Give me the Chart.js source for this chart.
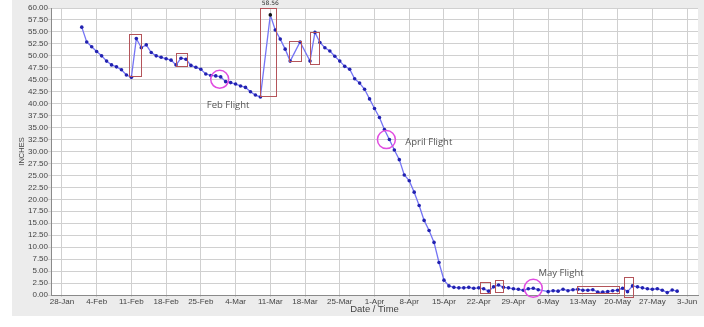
<!DOCTYPE html>
<html>
<head>
<meta charset="utf-8">
<script src="https://cdn.jsdelivr.net/npm/chart.js"></script>
<style>
  html, body { margin: 0; padding: 0; background: #fff; }
  #wrap { width: 704px; height: 327px; position: relative; }
</style>
</head>
<body>
<div id="wrap"><canvas id="depth" width="704" height="327"></canvas></div>
<script>
  // days counted from 28-Jan
  var monthNames = ['Jan','Feb','Mar','Apr','May','Jun','Jul','Aug','Sep','Oct','Nov','Dec'];
  var days = [4,5,6,7,8,9,10,11,12,13,14,15,16,17,18,19,20,21,22,23,24,25,26,27,28,29,30,31,32,33,34,35,36,37,38,39,40,
    42,43,44,45,46,48,50,51,52,53,54,55,56,57,58,59,60,61,62,63,64,65,66,67,68,69,70,71,72,73,74,75,76,77,
    78,79,80,81,82,83,84,85,86,87,88,89,90,91,92,93,94,95,96,98,99,100,101,102,103,104,105,106,107,108,109,110,111,112,
    113,114,115,116,117,118,119,120,121,122,123,124];
  var inches = [56.0,52.9,51.9,50.9,50.0,48.9,48.1,47.7,47.1,46.0,45.5,53.6,51.7,52.3,50.7,50.0,49.7,49.4,49.1,48.1,49.5,49.3,48.0,47.6,47.2,46.2,45.9,45.8,45.6,44.6,44.4,44.1,43.7,43.4,42.5,41.8,41.4,
    58.56,55.4,53.5,51.4,48.9,52.9,48.9,54.9,52.8,51.7,51.0,49.9,48.9,47.8,47.2,45.2,44.3,43.0,41.0,39.0,37.1,34.6,32.5,30.3,28.3,25.1,23.9,21.5,18.7,15.6,13.5,11.0,6.8,3.1,
    1.9,1.6,1.5,1.5,1.6,1.4,1.5,1.3,0.8,1.7,2.1,1.6,1.5,1.3,1.2,1.0,1.3,1.4,1.1,0.7,0.9,0.8,1.2,0.9,1.1,1.2,1.0,1.0,1.1,0.6,0.6,0.7,0.9,1.0,
    1.4,0.7,1.9,1.7,1.5,1.3,1.2,1.3,1.0,0.5,1.05,0.8];
  var tickDays = [0,7,14,21,28,35,42,49,56,63,70,77,84,91,98,105,112,119,126];
  var yTicks = [];
  for (var t = 0; t <= 60; t += 2.5) yTicks.push(t);

  // annotation marks in data units: [day from, day to, inches low, inches high]
  var boxes = [[13.5,15.9,45.8,54.5],[22.9,25.2,47.9,50.6],[39.9,43.1,41.4,59.9],[45.7,48.1,48.9,53.1],
    [49.9,51.8,48.2,54.9],[84.2,86.3,0.4,2.7],[87.3,88.9,0.6,3.1],[103.8,112.3,0.5,1.9],[113.3,115.2,-0.4,3.7]];
  var flights = [[31.8,45.1],[65.4,32.5],[95.0,1.4]];
  var notes = [[33.5,39.6,'Feb Flight','center'],[69.2,32.0,'April Flight','left'],[100.6,4.6,'May Flight','center']];
  var peakNote = [42,61.0,'58.56'];

  function dayLabel(v) {
    var d = new Date(2019, 0, 28 + v);
    return d.getDate() + '-' + monthNames[d.getMonth()];
  }

  var backdrop = {
    id: 'backdrop',
    beforeDraw: function(chart) {
      var c = chart.ctx, a = chart.chartArea;
      c.save();
      c.fillStyle = '#ececec';
      c.fillRect(12, 0, 692, 316);
      c.fillStyle = '#ffffff';
      c.fillRect(a.left, a.top, a.right - a.left, a.bottom - a.top);
      c.restore();
    }
  };

  var marks = {
    id: 'marks',
    afterDatasetsDraw: function(chart) {
      var c = chart.ctx, xs = chart.scales.x, ys = chart.scales.y;
      c.save();
      c.strokeStyle = '#b4545a';
      c.lineWidth = 1;
      boxes.forEach(function(b) {
        var x0 = xs.getPixelForValue(b[0]), x1 = xs.getPixelForValue(b[1]);
        var y0 = ys.getPixelForValue(b[3]), y1 = ys.getPixelForValue(b[2]);
        c.strokeRect(Math.round(x0) + 0.5, Math.round(y0) + 0.5, Math.round(x1 - x0), Math.round(y1 - y0));
      });
      c.strokeStyle = '#e04ce0';
      c.lineWidth = 1.5;
      flights.forEach(function(f) {
        c.beginPath();
        c.arc(xs.getPixelForValue(f[0]), ys.getPixelForValue(f[1]), 9, 0, Math.PI * 2);
        c.stroke();
      });
      c.fillStyle = '#555';
      c.font = '9.5px "Open Sans", sans-serif';
      c.textBaseline = 'middle';
      notes.forEach(function(n) {
        c.textAlign = n[3];
        c.fillText(n[2], xs.getPixelForValue(n[0]), ys.getPixelForValue(n[1]));
      });
      c.font = '6px "DejaVu Sans", sans-serif';
      c.textAlign = 'center';
      c.fillStyle = '#333';
      c.fillText(peakNote[2], xs.getPixelForValue(peakNote[0]), ys.getPixelForValue(peakNote[1]));
      c.restore();
    }
  };

  var points = days.map(function(d, i) { return {x: d, y: inches[i]}; });

  new Chart(document.getElementById('depth'), {
    type: 'line',
    data: {
      datasets: [{
        data: points,
        borderColor: '#7474f4',
        borderWidth: 1.3,
        pointRadius: 1.8,
        pointBorderWidth: 0,
        pointBackgroundColor: function(ctx) { return ctx.raw && ctx.raw.y > 58 ? '#111' : '#2222b0'; },
        tension: 0
      }]
    },
    options: {
      responsive: false,
      animation: false,
      devicePixelRatio: 1,
      layout: { padding: { left: 12, right: 6, top: 8, bottom: 11 } },
      plugins: { legend: { display: false }, tooltip: { enabled: false } },
      scales: {
        x: {
          type: 'linear',
          min: -2.2,
          max: 128.2,
          afterBuildTicks: function(s) { s.ticks = tickDays.map(function(v) { return {value: v}; }); },
          afterFit: function(s) { s.height = 21; },
          grid: { color: '#d0d0d0', tickLength: 2, drawTicks: true },
          border: { color: '#8a8a8a' },
          ticks: { color: '#444', font: { family: 'Liberation Sans', size: 8 }, padding: 0, maxRotation: 0, autoSkip: false,
            callback: function(v) { return dayLabel(v); } },
          title: { display: true, text: 'Date / Time', color: '#444', font: { family: 'Liberation Sans', size: 9.5 }, padding: { top: 0, bottom: 1 } }
        },
        y: {
          min: 0,
          max: 60,
          afterBuildTicks: function(s) { s.ticks = yTicks.map(function(v) { return {value: v}; }); },
          afterFit: function(s) { s.width = 39; },
          grid: { color: '#d0d0d0', tickLength: 3 },
          border: { color: '#8a8a8a' },
          ticks: { color: '#444', font: { family: 'Liberation Sans', size: 8 }, padding: 0, autoSkip: false,
            callback: function(v) { return v.toFixed(2); } },
          title: { display: true, text: 'INCHES', color: '#444', font: { family: 'Liberation Sans', size: 7.5 }, padding: { top: 5, bottom: 0 } }
        }
      }
    },
    plugins: [backdrop, marks]
  });
</script>
</body>
</html>
